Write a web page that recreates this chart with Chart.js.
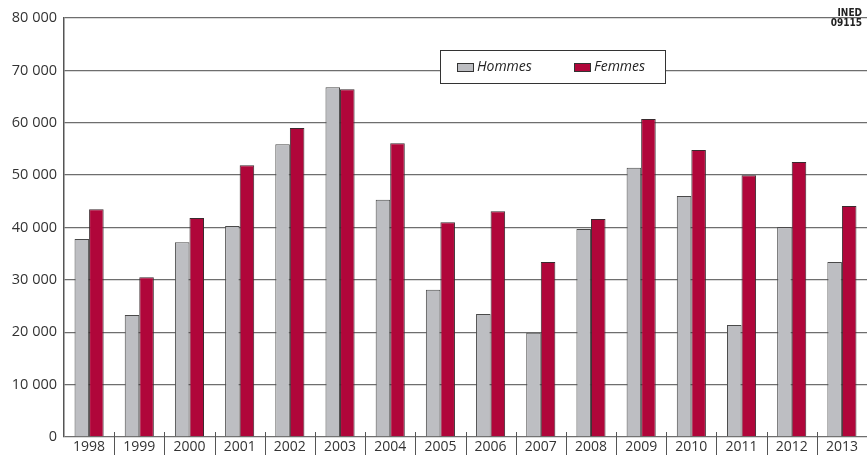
<!DOCTYPE html>
<html>
<head>
<meta charset="utf-8">
<script src="https://cdn.jsdelivr.net/npm/chart.js@4/dist/chart.umd.min.js"></script>
<style>
  html, body { margin: 0; padding: 0; background: #fff; }
  #wrap { width: 867px; height: 455px; }
</style>
</head>
<body>
<div id="wrap"><canvas id="graphique"></canvas></div>
<script>
const annees = ["1998","1999","2000","2001","2002","2003","2004","2005",
                "2006","2007","2008","2009","2010","2011","2012","2013"];

const hommes = [37800, 23300, 37200, 40300, 55900, 66800, 45300, 28100,
                23500, 19900, 39700, 51400, 46000, 21400, 40100, 33400];

const femmes = [43500, 30500, 41800, 51900, 59000, 66400, 56100, 41000,
                43100, 33400, 41600, 60700, 54800, 50000, 52500, 44100];

const ticksY = [0, 10000, 20000, 30000, 40000, 50000, 60000, 70000, 80000];

const police = "'Open Sans', 'Noto Sans', sans-serif";

// separateurs entre annees + legende encadree + mention INED
const habillage = {
    id: "habillage",
    afterDraw(chart) {
        const ctx = chart.ctx;
        const x = chart.scales.x;
        const area = chart.chartArea;
        const pas = x.getPixelForValue(1) - x.getPixelForValue(0);

        ctx.save();
        ctx.strokeStyle = "#555";
        ctx.lineWidth = 1;
        for (let i = 1; i < annees.length; i++) {
            const px = Math.round(x.getPixelForValue(i) - pas / 2) + 0.5;
            ctx.beginPath();
            ctx.moveTo(px, area.bottom - 5);
            ctx.lineTo(px, chart.height);
            ctx.stroke();
        }

        // legende
        ctx.fillStyle = "#fff";
        ctx.fillRect(440, 50, 225, 33);
        ctx.strokeStyle = "#333";
        ctx.strokeRect(440.5, 50.5, 225, 33);

        ctx.fillStyle = "#bdbec2";
        ctx.fillRect(457, 63, 16, 8);
        ctx.strokeRect(457.5, 63.5, 16, 8);
        ctx.fillStyle = "#b0063a";
        ctx.fillRect(574, 63, 16, 8);
        ctx.strokeRect(574.5, 63.5, 16, 8);

        ctx.fillStyle = "#222";
        ctx.font = "italic 14px " + police;
        ctx.textBaseline = "middle";
        ctx.textAlign = "left";
        ctx.fillText("Hommes", 477, 67);
        ctx.fillText("Femmes", 594, 67);

        ctx.font = "bold 10px 'DejaVu Sans Condensed', sans-serif";
        ctx.textAlign = "right";
        ctx.fillText("INED", 862, 13);
        ctx.fillText("09115", 862, 23);
        ctx.restore();
    }
};

new Chart(document.getElementById("graphique"), {
    type: "bar",
    data: {
        labels: annees,
        datasets: [
            {
                label: "Hommes",
                data: hommes,
                backgroundColor: "#bdbec2",
                borderColor: "#4a4a4a",
                borderWidth: 1,
                categoryPercentage: 0.58,
                barPercentage: 1.0
            },
            {
                label: "Femmes",
                data: femmes,
                backgroundColor: "#b0063a",
                borderColor: "#3a2a2e",
                borderWidth: 1,
                categoryPercentage: 0.58,
                barPercentage: 1.0
            }
        ]
    },
    plugins: [habillage],
    options: {
        responsive: true,
        maintainAspectRatio: false,
        animation: false,
        layout: { padding: { top: 18, right: 0, left: 0, bottom: 0 } },
        plugins: {
            legend: { display: false },
            tooltip: { enabled: false }
        },
        scales: {
            x: {
                grid: { display: false, drawTicks: false },
                border: { display: false },
                ticks: {
                    color: "#333",
                    font: { family: police, size: 14 },
                    padding: 2,
                    maxRotation: 0
                },
                afterFit(scale) { scale.height = 18; }
            },
            y: {
                min: 0,
                max: 80000,
                afterBuildTicks(scale) {
                    scale.ticks = ticksY.map(v => ({ value: v }));
                },
                grid: { color: "#6e6e6e", lineWidth: 1.3, drawTicks: false },
                border: { color: "#555", width: 1.5 },
                ticks: {
                    color: "#333",
                    font: { family: police, size: 14.5 },
                    padding: 7,
                    callback: v => String(v).replace(/\B(?=(\d{3})+(?!\d))/g, " ")
                },
                afterFit(scale) { scale.width = 64; }
            }
        }
    }
});
</script>
</body>
</html>
